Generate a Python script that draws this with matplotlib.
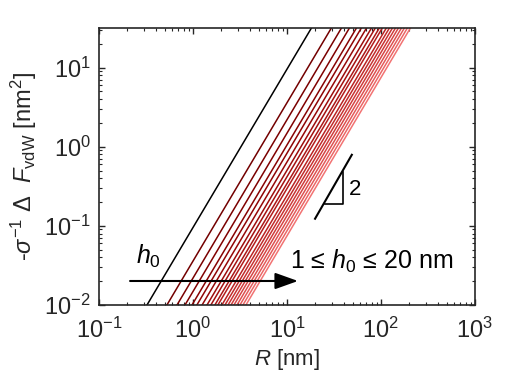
import numpy as np
import matplotlib
matplotlib.use('Agg')
from matplotlib import pyplot as plt

# MATLAB-like look
plt.rcParams['font.family'] = ['Liberation Sans', 'DejaVu Sans']
plt.rcParams['mathtext.fontset'] = 'custom'
plt.rcParams['mathtext.rm'] = 'Liberation Sans'
plt.rcParams['mathtext.it'] = 'Liberation Sans:italic'
plt.rcParams['mathtext.bf'] = 'Liberation Sans:bold'
plt.rcParams['axes.unicode_minus'] = False

# data: h0 = 1..20 nm, R [nm] where each line reaches 1e-2 nm^2, slope 2
h0 = list(range(1, 21))
R_at_bottom = [0.324, 0.528, 0.676, 0.822, 0.976, 1.10, 1.25, 1.41, 1.55, 1.71,
               1.84, 2.03, 2.19, 2.36, 2.54, 2.73, 2.94, 3.16, 3.40, 3.66]
slope = 2
F_bottom = 1e-2
R_range = [0.1, 1000]

# slope triangle
tri_line_R = [19.9, 49.0]
tri_line_F = [0.123, 0.79]
tri_R = [25.4, 39.4, 39.4]
tri_F = [0.19, 0.19, 0.483]

ink = '#262626'

fig = plt.figure(figsize=(5.25, 3.75), dpi=100)
ax = fig.add_axes([0.1886, 0.1867, 0.716, 0.7387])

# line colours: black, then dark red fading to light red
n = len(h0)
colors = [(0, 0, 0)]
for i in range(1, n):
    t = (i - 1) / (n - 2)
    colors.append((0.45 + 0.5 * t, 0.45 * t ** 2, 0.45 * t ** 2))

R = np.array(R_range)
for r0, c in zip(R_at_bottom, colors):
    F = F_bottom * (R / r0) ** slope
    ax.plot(R, F, color=c, lw=1.1)

# slope triangle
ax.plot(tri_line_R, tri_line_F, color='k', lw=1.5)
ax.plot(tri_R, tri_F, color='k', lw=1.2)
ax.text(46.0, 0.29, '2', fontsize=16, ha='left', va='center', color='k')

# arrow and labels
ax.annotate('', xy=(13.1, 0.0201), xytext=(0.214, 0.0201),
            arrowprops=dict(arrowstyle='-|>,head_length=1.4,head_width=0.5',
                            color='k', lw=1.5, shrinkA=0, shrinkB=0))
ax.text(0.25, 0.041, r'$h_0$', fontsize=18, ha='left', va='center')
ax.text(10.8, 0.036, '1 \u2264 $h_0$ \u2264 20 nm', fontsize=18, ha='left', va='center')

ax.set_xscale('log')
ax.set_yscale('log')
ax.set_xlim(0.1, 1000)
ax.set_ylim(1e-2, 10 ** 1.5)

ax.set_xlabel(r'$R$ [nm]', fontsize=16, color=ink, labelpad=3)
ax.set_ylabel(r'-$\sigma^{-1}$ $\Delta$  $F_{\rm vdW}$ [nm$^2$]', fontsize=17, color=ink, labelpad=4)

ax.tick_params(which='both', direction='in', top=True, right=True, colors=ink, labelcolor=ink)
ax.tick_params(which='major', length=4, width=1, labelsize=17)
ax.tick_params(axis='x', which='major', pad=9)
ax.tick_params(axis='y', which='major', pad=6)
ax.tick_params(which='minor', length=2.5, width=0.8)
for sp in ax.spines.values():
    sp.set_color(ink)
    sp.set_linewidth(1.2)

fig.savefig('out.png', dpi=100)
